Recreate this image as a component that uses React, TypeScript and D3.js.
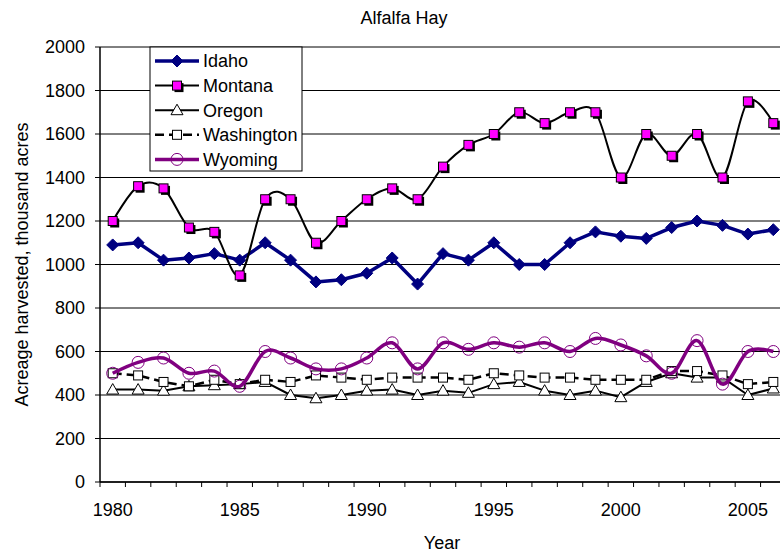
import React from 'react';
import * as d3 from 'd3';

const years = d3.range(1980, 2007);
const yTicks = [0, 200, 400, 600, 800, 1000, 1200, 1400, 1600, 1800, 2000];
const xLabels = [1980, 1985, 1990, 1995, 2000, 2005];

const idaho = [1090, 1100, 1020, 1030, 1050, 1020, 1100, 1020, 920, 930, 960, 1030, 910, 1050, 1020, 1100, 1000, 1000, 1100, 1150, 1130, 1120, 1170, 1200, 1180, 1140, 1160];
const montana = [1200, 1360, 1350, 1170, 1150, 950, 1300, 1300, 1100, 1200, 1300, 1350, 1300, 1450, 1550, 1600, 1700, 1650, 1700, 1700, 1400, 1600, 1500, 1600, 1400, 1750, 1650];
const oregon = [425, 425, 420, 440, 445, 450, 460, 400, 385, 400, 420, 425, 400, 420, 410, 450, 460, 420, 400, 420, 390, 460, 500, 480, 480, 400, 430];
const washington = [500, 490, 460, 440, 470, 450, 470, 460, 490, 480, 470, 480, 480, 480, 470, 500, 490, 480, 480, 470, 470, 470, 510, 510, 490, 450, 460];
const wyoming = [500, 550, 570, 500, 510, 440, 600, 570, 520, 520, 570, 640, 520, 640, 610, 640, 620, 640, 600, 660, 630, 580, 500, 650, 450, 600, 600];

const seriesNames = ['Idaho', 'Montana', 'Oregon', 'Washington', 'Wyoming'];

const FONT = 'Liberation Sans, Arial, sans-serif';

const W = 780;
const H = 554;
const left = 100;
const right = 786;
const top = 47;
const bottom = 482;

type Style = {
  stroke: string;
  width: number;
  dash?: string;
  smooth: boolean;
  marker: 'diamond' | 'square' | 'triangle' | 'hollowSquare' | 'circle';
};

const styles: Style[] = [
  { stroke: '#000080', width: 3.5, smooth: false, marker: 'diamond' },
  { stroke: '#000000', width: 2, smooth: true, marker: 'square' },
  { stroke: '#000000', width: 2, smooth: false, marker: 'triangle' },
  { stroke: '#000000', width: 2.5, dash: '9,5', smooth: false, marker: 'hollowSquare' },
  { stroke: '#800080', width: 3.5, smooth: true, marker: 'circle' },
];

const Marker = ({ kind, x, y }: { kind: Style['marker']; x: number; y: number }) => {
  if (kind === 'diamond') {
    const r = 6;
    return <path d={`M${x},${y - r}L${x + r},${y}L${x},${y + r}L${x - r},${y}Z`} fill="#000080" stroke="#000080" strokeWidth={1} />;
  }
  if (kind === 'square') {
    const s = 9;
    return (
      <g>
        <rect x={x - s / 2 + 2} y={y - s / 2 + 2} width={s} height={s} fill="#000" />
        <rect x={x - s / 2} y={y - s / 2} width={s} height={s} fill="#ff00ff" stroke="#000" strokeWidth={1} />
      </g>
    );
  }
  if (kind === 'triangle') {
    const r = 6;
    return <path d={`M${x},${y - r}L${x + r},${y + r * 0.75}L${x - r},${y + r * 0.75}Z`} fill="#fff" stroke="#000" strokeWidth={1} />;
  }
  if (kind === 'hollowSquare') {
    const s = 9;
    return <rect x={x - s / 2} y={y - s / 2} width={s} height={s} fill="#fff" stroke="#000" strokeWidth={1} />;
  }
  return <circle cx={x} cy={y} r={6} fill="none" stroke="#800080" strokeWidth={1} />;
};

const App = () => {
  const data = [idaho, montana, oregon, washington, wyoming];
  const x = d3.scaleBand<number>().domain(years).range([left, right]).padding(0);
  const bw = x.bandwidth();
  const cx = (yr: number) => (x(yr) as number) + bw / 2;
  const y = d3.scaleLinear().domain([0, 2000]).range([bottom, top]);

  const lineFor = (smooth: boolean) =>
    d3
      .line<number>()
      .x((_, i) => cx(years[i]))
      .y((d) => y(d))
      .curve(smooth ? d3.curveCatmullRom.alpha(0) : d3.curveLinear);

  const legendX = 150;
  const legendY = 47;
  const legendRow = 24.6;

  return (
    <svg width={W} height={H} style={{ position: 'absolute', left: 0, top: 0, background: '#fff' }} fontFamily={FONT}>
      <rect width={W} height={H} fill="#fff" />
      <text x={404} y={24} textAnchor="middle" fontSize={18}>
        Alfalfa Hay
      </text>

      {/* gridlines */}
      {yTicks.map((t) => (
        <line key={t} x1={left} x2={right} y1={y(t)} y2={y(t)} stroke="#000" strokeWidth={1} />
      ))}

      {/* y axis */}
      <line x1={left} x2={left} y1={top} y2={bottom} stroke="#000" strokeWidth={1.5} />
      {yTicks.map((t) => (
        <g key={t}>
          <line x1={left - 5} x2={left} y1={y(t)} y2={y(t)} stroke="#000" strokeWidth={1} />
          <text x={85} y={y(t)} dy="0.35em" textAnchor="end" fontSize={18}>
            {t}
          </text>
        </g>
      ))}

      {/* x axis */}
      <line x1={left} x2={right} y1={bottom} y2={bottom} stroke="#000" strokeWidth={1.5} />
      {years.concat([2007]).map((yr, i) => (
        <line key={yr} x1={left + i * bw} x2={left + i * bw} y1={bottom} y2={bottom + 5} stroke="#000" strokeWidth={1} />
      ))}
      {xLabels.map((yr) => (
        <text key={yr} x={cx(yr)} y={516} textAnchor="middle" fontSize={18}>
          {yr}
        </text>
      ))}

      <text x={442} y={549} textAnchor="middle" fontSize={18}>
        Year
      </text>
      <text transform={`translate(28, ${(top + bottom) / 2}) rotate(-90)`} textAnchor="middle" fontSize={18}>
        Acreage harvested, thousand acres
      </text>

      {/* series */}
      {data.map((vals, si) => (
        <g key={seriesNames[si]}>
          <path
            d={lineFor(styles[si].smooth)(vals) as string}
            fill="none"
            stroke={styles[si].stroke}
            strokeWidth={styles[si].width}
            strokeDasharray={styles[si].dash}
            strokeLinejoin="round"
          />
          {vals.map((v, i) => (
            <Marker key={i} kind={styles[si].marker} x={cx(years[i])} y={y(v)} />
          ))}
        </g>
      ))}

      {/* legend */}
      <rect x={legendX} y={legendY} width={152} height={124} fill="#fff" stroke="#000" strokeWidth={1} />
      {seriesNames.map((name, i) => {
        const ly = legendY + 14 + i * legendRow;
        return (
          <g key={name}>
            <line
              x1={155}
              x2={199}
              y1={ly}
              y2={ly}
              stroke={styles[i].stroke}
              strokeWidth={styles[i].width}
              strokeDasharray={styles[i].dash}
            />
            <Marker kind={styles[i].marker} x={177} y={ly} />
            <text x={203} y={ly} dy="0.35em" fontSize={18}>
              {name}
            </text>
          </g>
        );
      })}
    </svg>
  );
};

export default App;
